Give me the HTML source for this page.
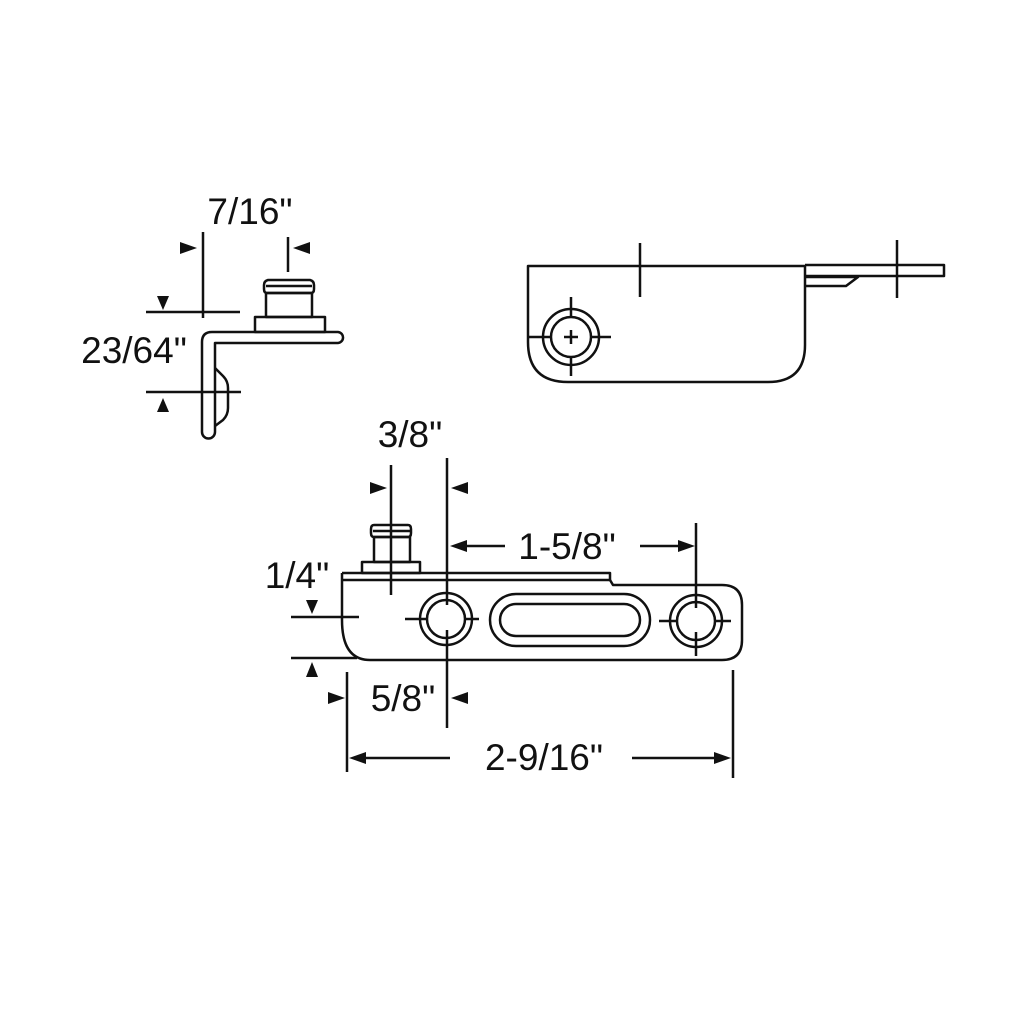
<!DOCTYPE html>
<html><head><meta charset="utf-8"><style>
html,body{margin:0;padding:0;background:#fff;}
svg{display:block;}
text{font-family:"Liberation Sans",Arial,sans-serif;font-size:37px;fill:#111;}
</style></head><body>
<svg width="1024" height="1024" viewBox="0 0 1024 1024" xmlns="http://www.w3.org/2000/svg">
<g fill="none" stroke="#111" stroke-width="2.5" stroke-linejoin="round">
<!-- Left bracket -->
<path d="M343 338 a5.5 5.5 0 0 0 -5 -6 H212 q-10 0 -10 10 V432 a6.5 6.5 0 0 0 13 0 V343 H338 a5.5 5.5 0 0 0 5 -5 Z"/>
<path d="M215 368 l8 8 q5 5 5 12 V408 q0 7 -5 12 l-8 6"/>
<rect x="255" y="317" width="70" height="15"/>
<rect x="266" y="293" width="46" height="24"/>
<path d="M267 293 h44 q3 0 3 -4 v-4 q0 -4 -4 -5 h-42 q-4 1 -4 5 v4 q0 4 3 4 Z"/>
<line x1="266" y1="286" x2="312" y2="286"/>
<line x1="203" y1="232" x2="203" y2="318"/>
<line x1="288" y1="237" x2="288" y2="272"/>
<line x1="146" y1="312" x2="240" y2="312"/>
<line x1="146" y1="392" x2="241" y2="392"/>
<!-- Right view -->
<path d="M528 266 H805 V345 q0 37 -37 37 H568 q-40 0 -40 -40 Z"/>
<path d="M805 265 H944 V276 H805"/>
<path d="M805 277 H858 L846 286 H805"/>
<line x1="640" y1="243" x2="640" y2="297"/>
<line x1="897" y1="240" x2="897" y2="298"/>
<circle cx="571" cy="337" r="28"/>
<circle cx="571" cy="337" r="20"/>
<line x1="564" y1="337" x2="578" y2="337"/>
<line x1="571" y1="330" x2="571" y2="344"/>
<line x1="528" y1="337" x2="551" y2="337"/><line x1="591" y1="337" x2="611" y2="337"/>
<line x1="571" y1="297" x2="571" y2="317"/><line x1="571" y1="357" x2="571" y2="376"/>
<!-- Bottom view -->
<path d="M342 573 H610 V580 H342"/>
<path d="M610 580 L613 585 H722 q20 0 20 20 V640 q0 20 -20 20 H370 q-28 0 -28 -40 V573"/>
<rect x="362" y="562" width="58" height="11"/>
<rect x="374" y="537" width="36" height="25"/>
<path d="M374 537 h34 q3 0 3 -4 v-4 q0 -4 -3 -4 h-34 q-3 0 -3 4 v4 q0 4 3 4 Z"/>
<line x1="373" y1="531" x2="410" y2="531"/>
<line x1="391" y1="465" x2="391" y2="595"/>
<circle cx="446" cy="619" r="26"/>
<circle cx="446" cy="619" r="19"/>
<line x1="405" y1="619" x2="427" y2="619"/><line x1="465" y1="619" x2="479" y2="619"/>
<line x1="447" y1="458" x2="447" y2="605"/><line x1="447" y1="630" x2="447" y2="728"/>
<rect x="490" y="594" width="160" height="52" rx="26"/>
<rect x="500" y="604" width="140" height="32" rx="16"/>
<circle cx="696" cy="621" r="26"/>
<circle cx="696" cy="621" r="19"/>
<line x1="659" y1="621" x2="677" y2="621"/><line x1="715" y1="621" x2="731" y2="621"/>
<line x1="696" y1="523" x2="696" y2="608"/><line x1="696" y1="632" x2="696" y2="656"/>
<line x1="733" y1="670" x2="733" y2="778"/>
<line x1="347" y1="672" x2="347" y2="772"/>
<line x1="291" y1="617" x2="359" y2="617"/>
<line x1="291" y1="658" x2="357" y2="658"/>
<line x1="465" y1="546" x2="505" y2="546"/>
<line x1="640" y1="546" x2="682" y2="546"/>
<line x1="360" y1="758" x2="450" y2="758"/>
<line x1="632" y1="758" x2="720" y2="758"/>
</g>
<g fill="#111">
<polygon points="180,242 197,248 180,254"/>
<polygon points="310,242 293,248 310,254"/>
<polygon points="157,296 169,296 163,310"/>
<polygon points="157,412 169,412 163,398"/>
<polygon points="370,482 387,488 370,494"/>
<polygon points="468,482 451,488 468,494"/>
<polygon points="306,600 318,600 312,614"/>
<polygon points="306,677 318,677 312,662"/>
<polygon points="328,692 345,698 328,704"/>
<polygon points="468,692 451,698 468,704"/>
<polygon points="450,546 467,540 467,552"/>
<polygon points="695,546 678,540 678,552"/>
<polygon points="349,758 366,752 366,764"/>
<polygon points="731,758 714,752 714,764"/>
</g>
<text x="250" y="224" text-anchor="middle">7/16"</text>
<text x="134" y="363" text-anchor="middle">23/64"</text>
<text x="410" y="447" text-anchor="middle">3/8"</text>
<text x="567" y="559" text-anchor="middle">1-5/8"</text>
<text x="297" y="588" text-anchor="middle">1/4"</text>
<text x="403" y="711" text-anchor="middle">5/8"</text>
<text x="544" y="770" text-anchor="middle">2-9/16"</text>
</svg>
</body></html>
